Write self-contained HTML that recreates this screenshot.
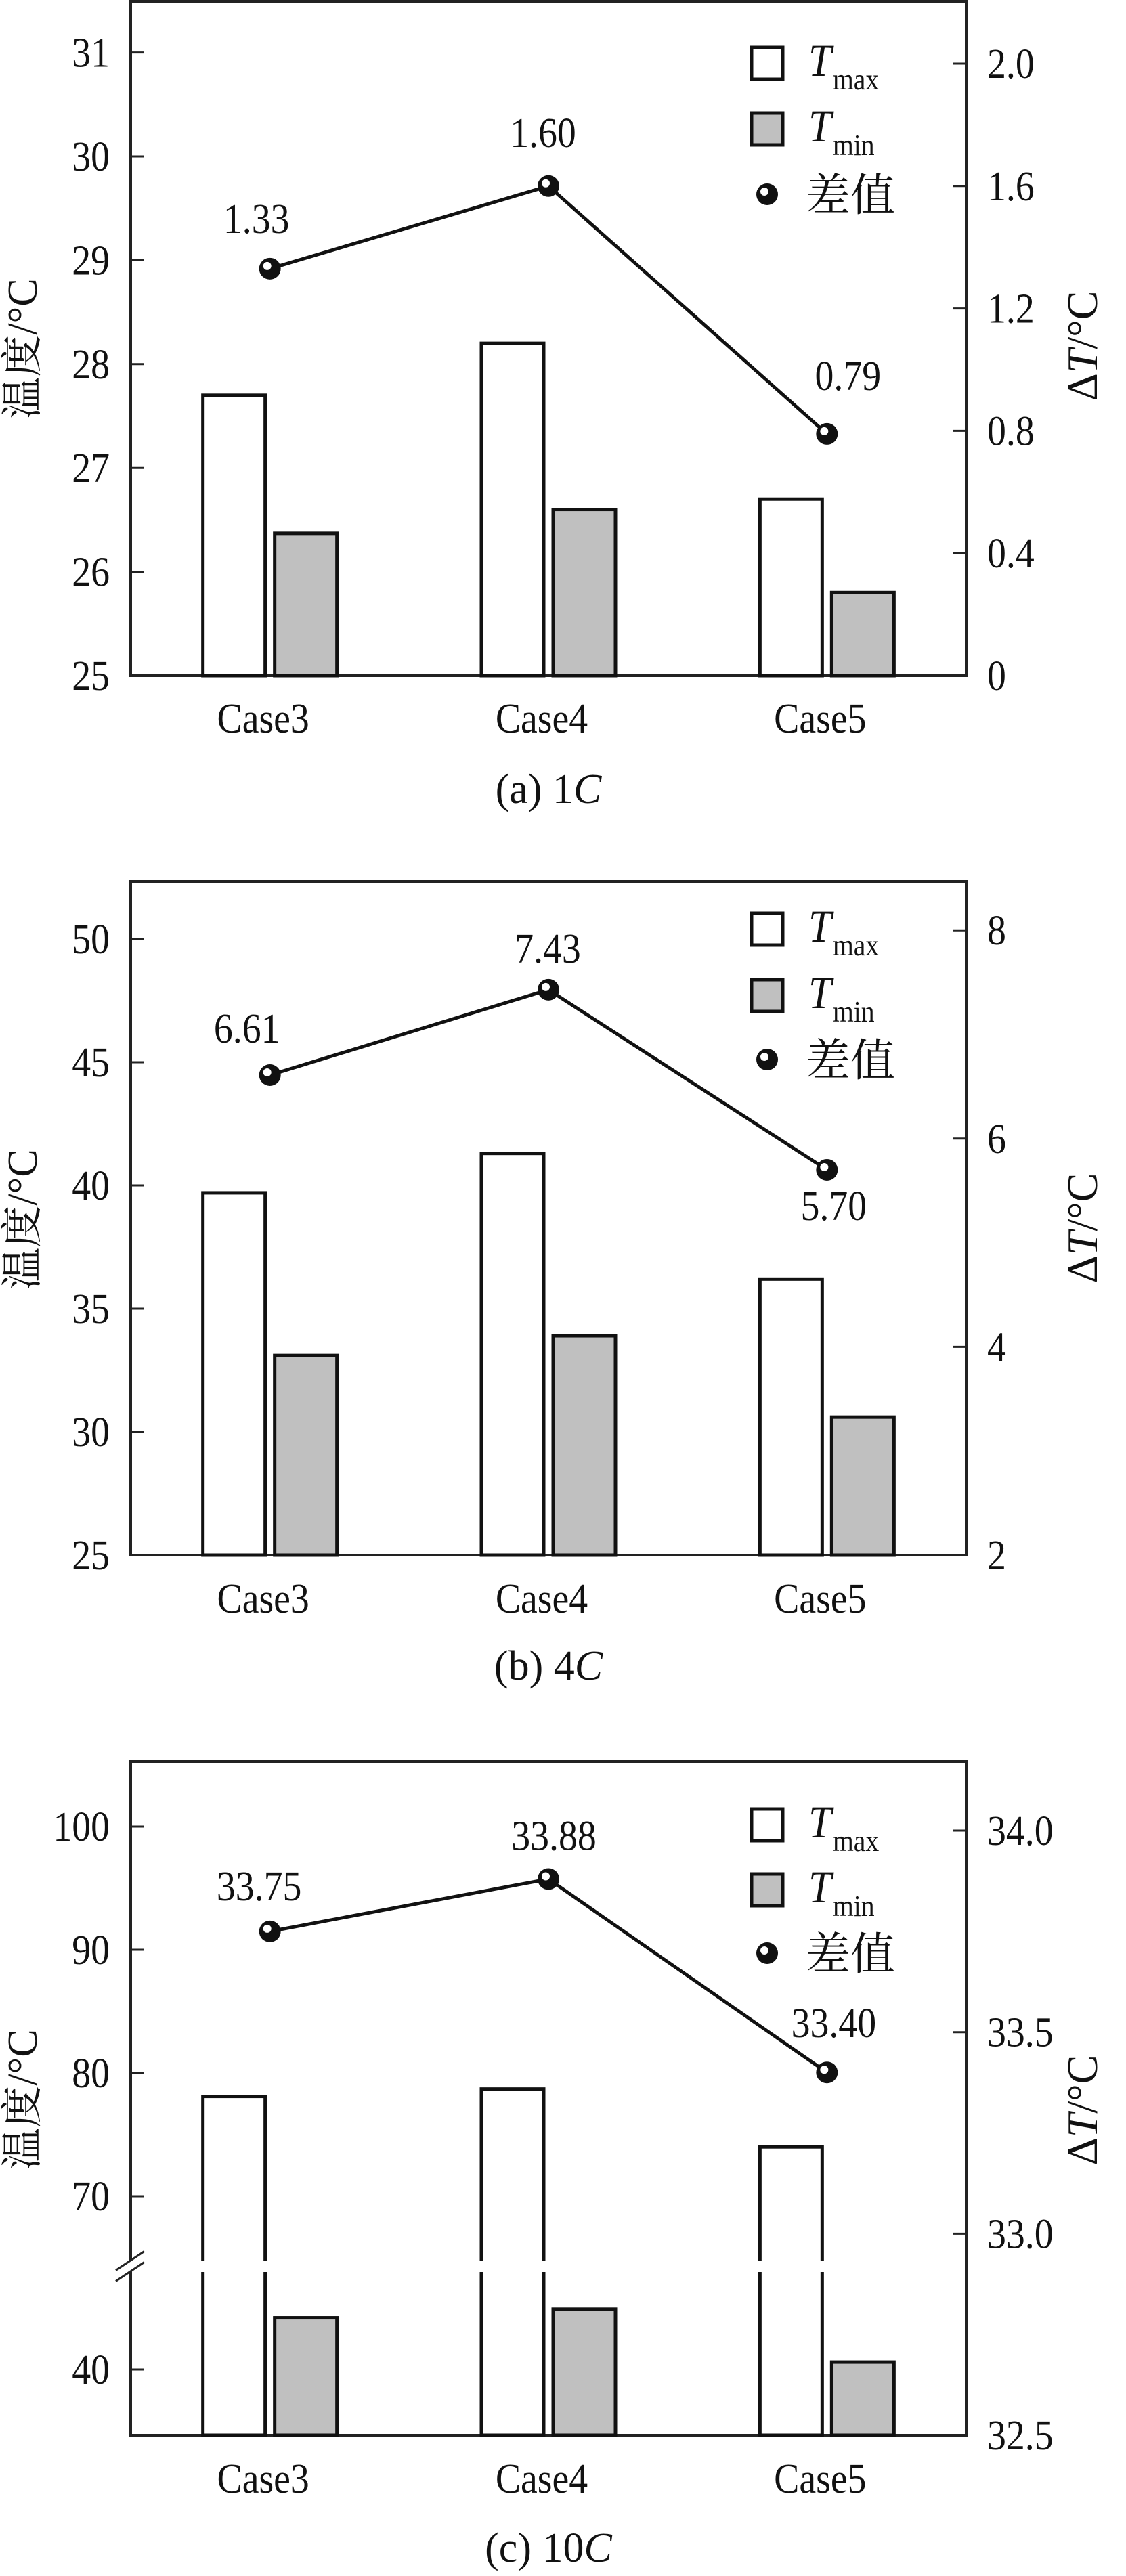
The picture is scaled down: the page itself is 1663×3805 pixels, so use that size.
<!DOCTYPE html>
<html><head><meta charset="utf-8"><style>
html,body{margin:0;padding:0;background:#fff;}
svg, svg text, svg tspan{font-family:"Liberation Serif","Times New Roman","Noto Serif CJK SC",serif !important;fill:#111;}
</style></head><body>
<svg id="fig" xmlns="http://www.w3.org/2000/svg" width="1663" height="3800" viewBox="0 0 1663 3800" font-family="Liberation Serif, Noto Serif CJK SC, serif"></svg>
<script>
const categories = ["Case3", "Case4", "Case5"];
const tmaxA = [27.7, 28.2, 26.7];
const tminA = [26.37, 26.6, 25.8];
const diffA = [1.33, 1.60, 0.79];
const leftTicksA = [25, 26, 27, 28, 29, 30, 31];
const rightTicksA = [0, 0.4, 0.8, 1.2, 1.6, 2.0];
const rightLabelsA = ["0", "0.4", "0.8", "1.2", "1.6", "2.0"];
const tmaxB = [39.7, 41.3, 36.2];
const tminB = [33.1, 33.9, 30.6];
const diffB = [6.61, 7.43, 5.70];
const leftTicksB = [25, 30, 35, 40, 45, 50];
const rightTicksB = [2, 4, 6, 8];
const rightLabelsB = ["2", "4", "6", "8"];
const tmaxC = [78.1, 78.7, 74.0];
const tminC = [44.2, 44.9, 40.6];
const diffC = [33.75, 33.88, 33.40];
const leftTicksC = [40, 70, 80, 90, 100];
const rightTicksC = [32.5, 33.0, 33.5, 34.0];
const rightLabelsC = ["32.5", "33.0", "33.5", "34.0"];

const NS = "http://www.w3.org/2000/svg";
const svg = document.getElementById("fig");
const FONT = "Liberation Serif, Noto Serif CJK SC, serif";
function mk(tag, attrs, parent) {
  const e = document.createElementNS(NS, tag);
  for (const k in attrs) e.setAttribute(k, attrs[k]);
  if (tag === "text") e.setAttribute("font-family", FONT);
  (parent || svg).appendChild(e);
  return e;
}
function txt(str, x, y, size, anchor, parent, extra) {
  const t = mk("text", Object.assign({x: 0, y: 0, "font-size": size, "text-anchor": anchor || "start",
    transform: "translate(" + x + "," + y + ") scale(0.9,1)"}, extra || {}), parent);
  t.textContent = str;
  return t;
}

const L = 193, R = 1427;
function cx(i) { return L + (R - L) * (i + 0.5) / 3; }

function drawChart(cfg) {
  const g = mk("g", {});
  
  
  const {top, bottom, yL, yR} = cfg;
  const fr = mk("rect", {x: L, y: top, width: R - L, height: bottom - top, fill: "none", stroke: "#222", "stroke-width": 4}, g);
  
  
  cfg.leftTicks.forEach(v => {
    const y = yL(v);
    const tk = mk("line", {x1: L, x2: L + 19, y1: y, y2: y, stroke: "#222", "stroke-width": 3}, g);
    
    
    const t = txt(String(v), 162, y + 21, 62, "end", g);
    
    
  });
  cfg.rightTicks.forEach((v, i) => {
    const y = yR(v);
    const tk = mk("line", {x1: R - 19, x2: R, y1: y, y2: y, stroke: "#222", "stroke-width": 3}, g);
    
    
    const t = txt(cfg.rightLabels[i], 1458, y + 21, 62, "start", g);
    
    
  });
  categories.forEach((c, i) => {
    const x = cx(i);
    const yMax = yL(cfg.tmax[i]);
    const b1 = mk("rect", {x: x - 99, y: yMax, width: 92, height: bottom - yMax, fill: "#fff", stroke: "#111", "stroke-width": 5}, g);
    
    
    if (cfg.breakY) {
      const gap = mk("rect", {x: x - 104, y: cfg.breakY[0], width: 102, height: cfg.breakY[1] - cfg.breakY[0], fill: "#fff"}, g);
      
      
    }
    const yMin = yL(cfg.tmin[i]);
    const b2 = mk("rect", {x: x + 7, y: yMin, width: 92, height: bottom - yMin, fill: "#c0c0c0", stroke: "#111", "stroke-width": 5}, g);
    
    
    const cl = txt(c, x - 10, cfg.caseY + 21, 62, "middle", g);
    
    
  });
  if (cfg.breakY) {
    const m = (cfg.breakY[0] + cfg.breakY[1]) / 2;
    const wg = mk("rect", {x: L - 4, y: m - 8, width: 8, height: 16, fill: "#fff"}, g);
    
    
    [-8, 8].forEach(o => {
      const s = mk("line", {x1: L - 22, y1: m + o + 14, x2: L + 20, y2: m + o - 14, stroke: "#222", "stroke-width": 3}, g);
      
      
    });
  }
  const pts = cfg.diff.map((v, i) => cx(i) + "," + yR(v)).join(" ");
  const pl = mk("polyline", {points: pts, fill: "none", stroke: "#111", "stroke-width": 5}, g);
  
  
  cfg.diff.forEach((v, i) => {
    const x = cx(i), y = yR(v);
    const c = mk("circle", {cx: x, cy: y, r: 16, fill: "#111"}, g);
    
    
    mk("circle", {cx: x - 4, cy: y - 4, r: 6, fill: "#fff"}, g);
    const lab = txt(v.toFixed(2), x + cfg.lblOff[i][0], y + cfg.lblOff[i][1] + 21, 62, "middle", g);
    
    
  });
  const lg = mk("g", {}, g);
  
  
  const l1 = mk("rect", {x: 1110, y: cfg.leg[0], width: 46, height: 47, fill: "#fff", stroke: "#111", "stroke-width": 5}, lg);
  
  
  const l2 = mk("rect", {x: 1110, y: cfg.leg[1], width: 46, height: 47, fill: "#c0c0c0", stroke: "#111", "stroke-width": 5}, lg);
  
  
  [["max", cfg.leg[0]], ["min", cfg.leg[1]]].forEach(p => {
    const t = txt("T", 1194, p[1] + 42, 68, "start", lg, {"font-style": "italic"});
    
    
    const s = txt(p[0], 1230, p[1] + 62, 44, "start", lg);
    
    
  });
  const lm = mk("circle", {cx: 1133, cy: cfg.leg[2], r: 16, fill: "#111"}, lg);
  
  
  mk("circle", {cx: 1129, cy: cfg.leg[2] - 4, r: 6, fill: "#fff"}, lg);
  const ld = mk("text", {x: 1190, y: cfg.leg[2] + 24, "font-size": 66}, lg);
  ld.textContent = "差值";
  
  
  const yl = mk("text", {x: 0, y: 0, "font-size": 62, "text-anchor": "middle", transform: "translate(54," + cfg.ylY + ") rotate(-90)"}, g);
  yl.textContent = "温度/°C";
  
  
  const yr = mk("text", {x: 0, y: 0, "font-size": 64, "text-anchor": "middle", transform: "translate(1620," + cfg.yrY + ") rotate(-90)"}, g);
  yr.innerHTML = 'Δ<tspan font-style="italic">T</tspan>/°C';
  
  
  const cap = mk("text", {x: 810, y: cfg.capY + 21, "font-size": 62, "text-anchor": "middle"}, g);
  cap.innerHTML = cfg.cap[0] + '<tspan font-style="italic">C</tspan>';
  
  
}

drawChart({name: "chart-1c", top: 2, bottom: 998,
  yL: v => 998 - (v - 25) * 153.4, yR: v => 998 - v * 452,
  leftTicks: leftTicksA, rightTicks: rightTicksA, rightLabels: rightLabelsA,
  tmax: tmaxA, tmin: tminA, diff: diffA,
  lblOff: [[-20, -74], [-8, -79], [31, -86]],
  leg: [70, 167, 287], caseY: 1061, capY: 1165, ylY: 515, yrY: 511, cap: ["(a) 1"]});
drawChart({name: "chart-4c", top: 1302, bottom: 2297,
  yL: v => 2297 - (v - 25) * 36.4, yR: v => 2297 - (v - 2) * 153.8,
  leftTicks: leftTicksB, rightTicks: rightTicksB, rightLabels: rightLabelsB,
  tmax: tmaxB, tmin: tminB, diff: diffB,
  lblOff: [[-34, -69], [-1, -61], [10, 53]],
  leg: [1349, 1447, 1565], caseY: 2361, capY: 2460, ylY: 1801, yrY: 1814, cap: ["(b) 4"]});
drawChart({name: "chart-10c", top: 2602, bottom: 3597,
  yL: v => v >= 60 ? 3244 - (v - 70) * 18.2 : 3500 - (v - 40) * 18.2,
  yR: v => 3597 - (v - 32.5) * 595.3,
  leftTicks: leftTicksC, rightTicks: rightTicksC, rightLabels: rightLabelsC,
  tmax: tmaxC, tmin: tminC, diff: diffC,
  lblOff: [[-16, -67], [8, -64], [10, -73]], breakY: [3339, 3356],
  leg: [2672, 2768, 2885], caseY: 3661, capY: 3763, ylY: 3101, yrY: 3117, cap: ["(c) 10"]});
</script>
</body></html>
